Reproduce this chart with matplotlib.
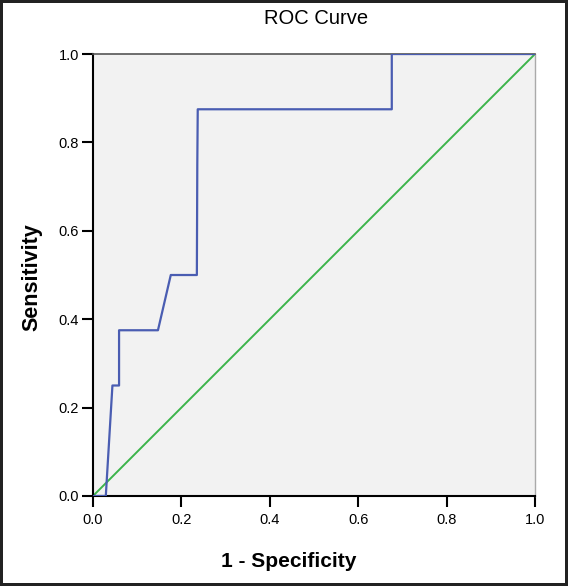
import matplotlib
matplotlib.use("Agg")
from matplotlib import pyplot as plt

plt.rcParams['font.family'] = ['Liberation Sans', 'DejaVu Sans']

# ROC curve points (1 - specificity, sensitivity)
fpr = [0.0, 0.029, 0.044, 0.059, 0.059, 0.147, 0.176, 0.235, 0.236, 0.237, 0.676, 0.676, 1.0]
tpr = [0.0, 0.0, 0.25, 0.25, 0.375, 0.375, 0.5, 0.5, 0.75, 0.875, 0.875, 1.0, 1.0]
ref_line = [0.0, 1.0]
ticks = [0.0, 0.2, 0.4, 0.6, 0.8, 1.0]
tick_labels = ["0.0", "0.2", "0.4", "0.6", "0.8", "1.0"]

fig = plt.figure(figsize=(5.68, 5.86), dpi=100)
fig.patch.set_facecolor("white")
fig.patch.set_edgecolor("#222222")
fig.patch.set_linewidth(3)

ax = fig.add_axes([0.1637, 0.1536, 0.7782, 0.7542])
ax.set_facecolor("#f2f2f2")

ax.plot(ref_line, ref_line, color="#3cb44b", linewidth=1.4, zorder=2)
ax.plot(fpr, tpr, color="#4a5db2", linewidth=1.6, zorder=3)

ax.set_xlim(0, 1)
ax.set_ylim(0, 1)
ax.set_xticks(ticks)
ax.set_xticklabels(tick_labels)
ax.set_yticks(ticks)
ax.set_yticklabels(tick_labels)
ax.tick_params(direction="out", length=8, width=1.5, labelsize=10.5, colors="black", pad=4)
ax.tick_params(axis="y", pad=2)

ax.spines["left"].set_linewidth(1.5)
ax.spines["bottom"].set_linewidth(1.5)
ax.spines["top"].set_color("#555555")
ax.spines["top"].set_linewidth(1.2)
ax.spines["right"].set_color("#aaaaaa")
ax.spines["right"].set_linewidth(1.0)

fig.text(0.556, 0.968, "ROC Curve", ha="center", va="center", fontsize=14.5)
fig.text(0.509, 0.042, "1 - Specificity", ha="center", va="center", fontsize=15, fontweight="bold")
fig.text(0.056, 0.527, "Sensitivity", ha="center", va="center", rotation=90, fontsize=15.5, fontweight="bold")

plt.savefig("out.png", dpi=100)
